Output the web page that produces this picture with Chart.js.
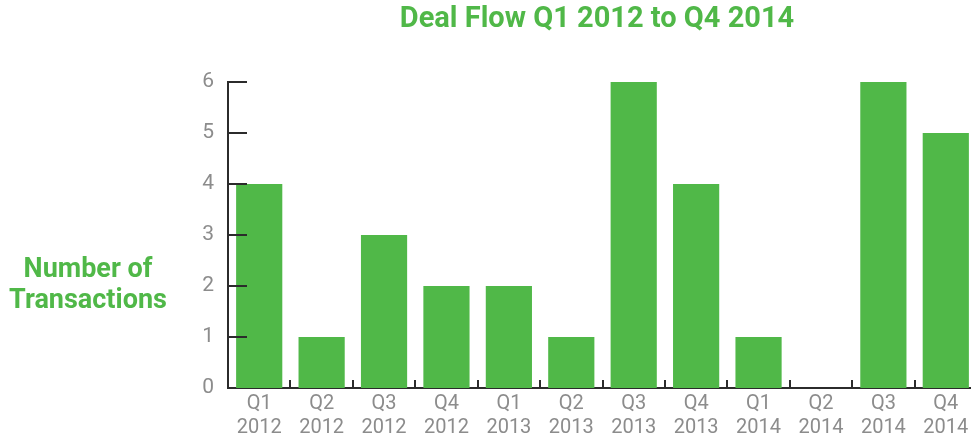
<!DOCTYPE html>
<html><head><meta charset="utf-8">
<script src="https://cdn.jsdelivr.net/npm/chart.js@4/dist/chart.umd.min.js"></script>
<style>html,body{margin:0;padding:0;background:#fff;overflow:hidden}#wrap{width:971px;height:438px;overflow:hidden}</style>
</head><body><div id="wrap"><canvas id="c" width="977" height="438"></canvas></div>
<script>
const quarters = ["Q1","Q2","Q3","Q4","Q1","Q2","Q3","Q4","Q1","Q2","Q3","Q4"];
const years = ["2012","2012","2012","2012","2013","2013","2013","2013","2014","2014","2014","2014"];
const transactions = [4,1,3,2,2,1,6,4,1,0,6,5];
const yTicks = [0,1,2,3,4,5,6];
const titleText = "Deal Flow Q1 2012 to Q4 2014";
const yTitleLines = ["Number of","Transactions"];

const GREEN = "#50b848";
const AXIS = "#2b2b2b";
const GRAY = "#8c8c8c";
const FONT = "Roboto, 'DejaVu Sans', sans-serif";

const labels = quarters.map((q,i)=>[q, years[i]]);

const tickPlugin = {
  id: 'tickMarks',
  afterDraw(chart) {
    const {ctx, chartArea: a, scales: {x, y}} = chart;
    ctx.save();
    ctx.strokeStyle = AXIS;
    ctx.lineWidth = 2;
    yTicks.forEach(v => {
      if (v === 0) return;
      const py = Math.round(y.getPixelForValue(v));
      ctx.beginPath(); ctx.moveTo(a.left, py); ctx.lineTo(a.left + 19, py); ctx.stroke();
    });
    for (let i = 1; i < labels.length; i++) {
      const px = Math.round((x.getPixelForValue(i-1) + x.getPixelForValue(i)) / 2);
      ctx.beginPath(); ctx.moveTo(px, a.bottom); ctx.lineTo(px, a.bottom - 8); ctx.stroke();
    }
    ctx.fillStyle = GREEN;
    ctx.textAlign = "center";
    ctx.textBaseline = "middle";
    ctx.font = "bold 29px " + FONT;
    ctx.fillText(titleText, 597, 20);
    ctx.font = "bold 27px " + FONT;
    ctx.fillText(yTitleLines[0], 88, 270);
    ctx.fillText(yTitleLines[1], 88, 301);
    ctx.restore();
  }
};

new Chart(document.getElementById('c'), {
  type: 'bar',
  data: {
    labels: labels,
    datasets: [{
      data: transactions,
      backgroundColor: GREEN,
      borderWidth: 0,
      categoryPercentage: 1.0,
      barPercentage: 0.74
    }]
  },
  options: {
    responsive: false,
    animation: false,
    layout: { padding: { left: 0, right: 0, top: 82, bottom: 0 } },
    plugins: {
      legend: { display: false },
      tooltip: { enabled: false },
      title: { display: false }
    },
    scales: {
      x: {
        grid: { display: false, drawTicks: false },
        border: { display: true, color: AXIS, width: 2 },
        ticks: { color: GRAY, font: { family: FONT, size: 20, lineHeight: 1.2 }, padding: 4, maxRotation: 0, autoSkip: false },
        afterFit(s) { s.height = 50; }
      },
      y: {
        min: 0, max: 6,
        grid: { display: false, drawTicks: false },
        border: { display: true, color: AXIS, width: 2 },
        ticks: { stepSize: 1, color: GRAY, font: { family: FONT, size: 21 }, padding: 14 },
        afterFit(s) { s.width = 228; }
      }
    }
  },
  plugins: [tickPlugin]
});
</script></body></html>
